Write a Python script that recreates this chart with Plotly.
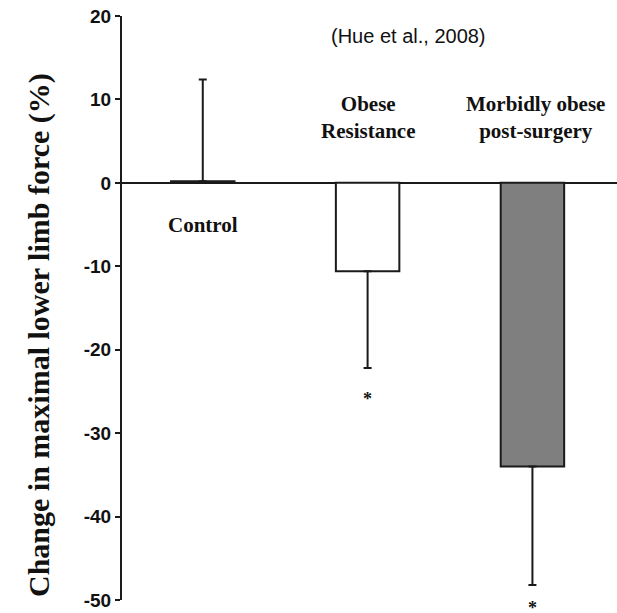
import plotly.graph_objects as go

groups = ["Control", "Obese Resistance", "Morbidly obese post-surgery"]
group_labels = ["Control", "Obese<br>Resistance", "Morbidly obese<br>post-surgery"]
change_pct = [0.2, -10.6, -34.0]
err_plus = [12.2, 0.0, 0.0]
err_minus = [0.0, 11.6, 14.2]
sig_marks = ["", "*", "*"]
sig_y = [None, -25.9, -51.0]
label_y = [-5.0, 7.8, 7.8]
y_ticks = [20, 10, 0, -10, -20, -30, -40, -50]
y_range = [-50, 20]

fig = go.Figure()
fig.add_trace(go.Bar(
    x=groups, y=change_pct, width=0.385,
    marker=dict(color=["white", "white", "#7f7f7f"],
                line=dict(color="#1a1a1a", width=2)),
    error_y=dict(type="data", symmetric=False, array=err_plus, arrayminus=err_minus,
                 color="#1a1a1a", thickness=2, width=4, visible=True),
    showlegend=False,
))

serif = "Liberation Serif, Times New Roman, serif"

def ydom(v):
    return (v - y_range[0]) / (y_range[1] - y_range[0])

for i, lab in enumerate(group_labels):
    fig.add_annotation(x=groups[i], y=label_y[i], text=lab, showarrow=False,
                       xshift=3 if i == 2 else 0,
                       font=dict(family=serif, size=21, color="#111", weight="bold"),
                       xanchor="center", yanchor="middle")

for i, m in enumerate(sig_marks):
    if m:
        fig.add_annotation(x=groups[i], yref="y domain", y=ydom(sig_y[i]), text=m, showarrow=False,
                           font=dict(family=serif, size=18, color="#111", weight="bold"),
                           xanchor="center", yanchor="middle")

fig.add_annotation(xref="x domain", yref="y domain", x=(408 - 122) / 495, y=(600 - 36) / 584,
                   text="(Hue et al., 2008)", showarrow=False,
                   xanchor="center", yanchor="middle",
                   font=dict(family="Liberation Sans, Arial, sans-serif", size=20, color="#111"))

fig.add_annotation(xref="x domain", yref="y domain", x=(39 - 122) / 495, y=(600 - 335) / 584,
                   text="Change in maximal lower limb force (%)", textangle=-90, showarrow=False,
                   font=dict(family=serif, size=30, color="#111", weight="bold"),
                   xanchor="center", yanchor="middle")

fig.update_layout(
    width=617, height=613,
    margin=dict(l=122, r=0, t=16, b=13),
    paper_bgcolor="white", plot_bgcolor="white",
)
fig.update_xaxes(range=[-0.49, 2.513], showticklabels=False, ticks="", showgrid=False,
                 showline=False, zeroline=False, automargin=False)
fig.update_yaxes(range=y_range, tickvals=y_ticks, ticktext=[str(v) for v in y_ticks],
                 automargin=False,
                 showgrid=False, showline=True, linecolor="#1a1a1a", linewidth=2,
                 ticks="outside", ticklen=5, tickwidth=2, tickcolor="#1a1a1a",
                 zeroline=True, zerolinecolor="#1a1a1a", zerolinewidth=2,
                 tickfont=dict(family="Liberation Sans Narrow, Arial Narrow, Liberation Sans, sans-serif",
                               size=19, color="#111", weight="bold"))

# remove the browser's default 8px body margin so the figure sits at the page corner
fig.write_html("out.html", config={"displayModeBar": False},
               post_script="document.body.style.margin='0';")
